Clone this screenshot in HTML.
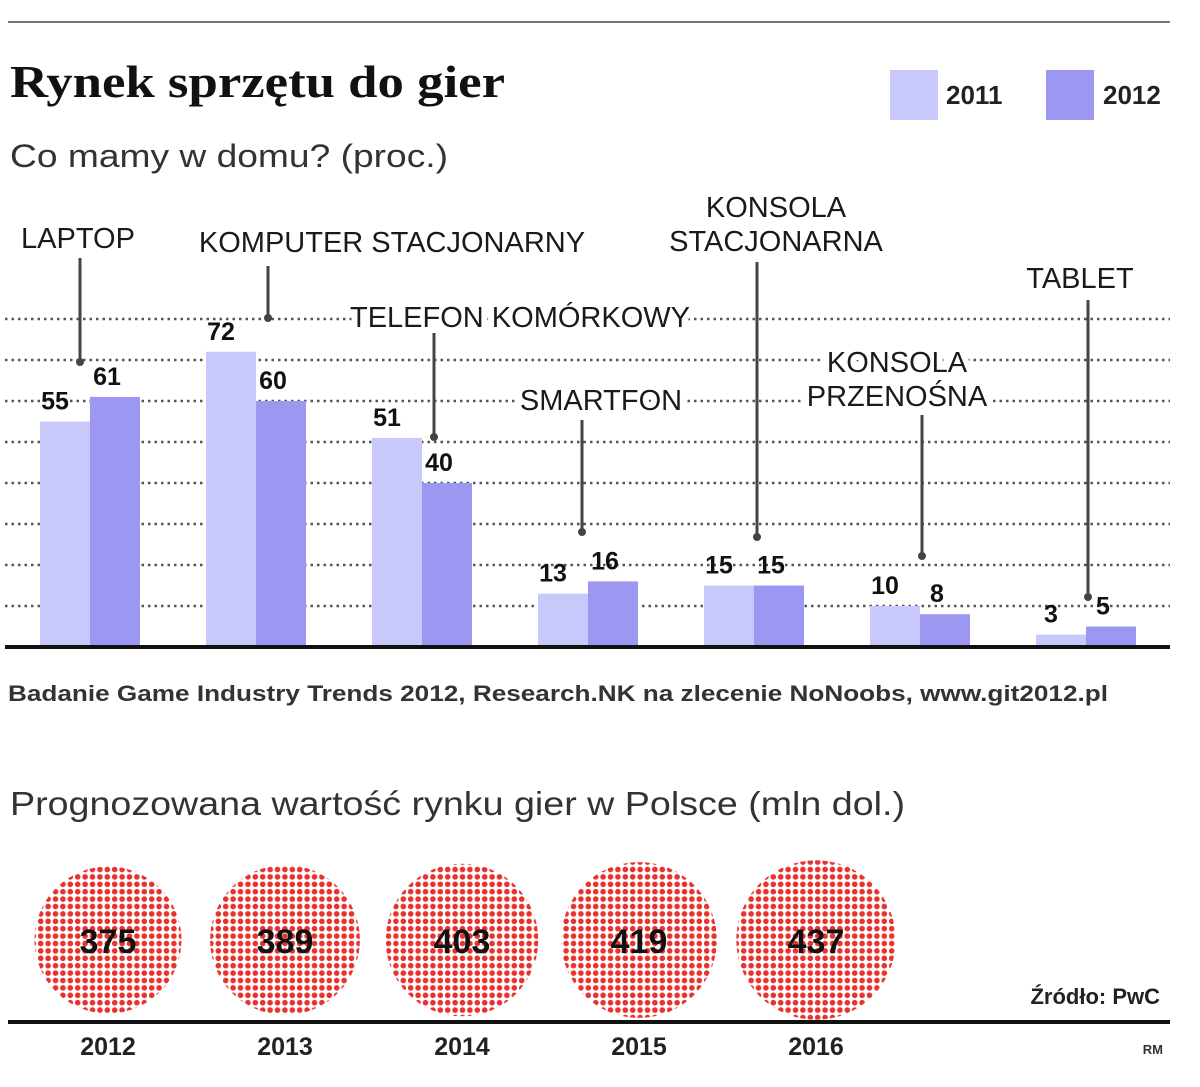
<!DOCTYPE html>
<html><head><meta charset="utf-8">
<style>
html,body{margin:0;padding:0;background:#fff;}
svg{display:block;}
text{font-family:"Liberation Sans",sans-serif;}
.lbl{font-size:29px;fill:#1a1a1a;paint-order:stroke;stroke:#fff;stroke-width:12px;stroke-linejoin:round;}
.val{font-size:25px;font-weight:bold;fill:#111;}
</style></head>
<body>
<svg id="chart" width="1200" height="1087" viewBox="0 0 1200 1087" xmlns="http://www.w3.org/2000/svg">
<defs>
<pattern id="dots" width="7.4" height="7.4" patternUnits="userSpaceOnUse">
<circle cx="3.7" cy="3.7" r="2.8" fill="#e8322e"/>
</pattern>
</defs>
<line x1="8" y1="22" x2="1170" y2="22" stroke="#777" stroke-width="2"/>
<text x="10" y="97" textLength="495" lengthAdjust="spacingAndGlyphs" style="font-family:'Liberation Serif',serif;font-size:46px;font-weight:bold;fill:#111;">Rynek sprzętu do gier</text>
<text x="10" y="167" textLength="438" lengthAdjust="spacingAndGlyphs" style="font-size:32px;fill:#333;">Co mamy w domu? (proc.)</text>
<rect x="890" y="70" width="48" height="50" fill="#c8c8fa"/>
<text x="946" y="104" style="font-size:26px;font-weight:bold;fill:#222;">2011</text>
<rect x="1046" y="70" width="48" height="50" fill="#9c98f2"/>
<text x="1103" y="104" style="font-size:26px;font-weight:bold;fill:#222;">2012</text>
<g id="grid"></g>
<g id="bars"></g>
<g id="labels"></g>
<line x1="5" y1="647" x2="1170" y2="647" stroke="#111" stroke-width="4"/>
<text x="8" y="701" textLength="1100" lengthAdjust="spacingAndGlyphs" style="font-size:22px;font-weight:bold;fill:#333;">Badanie Game Industry Trends 2012, Research.NK na zlecenie NoNoobs, www.git2012.pl</text>
<text x="10" y="815" textLength="895" lengthAdjust="spacingAndGlyphs" style="font-size:33px;fill:#333;">Prognozowana wartość rynku gier w Polsce (mln dol.)</text>
<g id="circles"></g>
<line x1="8" y1="1022" x2="1170" y2="1022" stroke="#111" stroke-width="4"/>
<text x="1160" y="1004" text-anchor="end" style="font-size:22px;font-weight:bold;fill:#222;">Źródło: PwC</text>
<text x="1163" y="1054" text-anchor="end" style="font-size:13px;font-weight:bold;fill:#333;">RM</text>
</svg>
<script>
const categories = ["LAPTOP","KOMPUTER STACJONARNY","TELEFON KOMÓRKOWY","SMARTFON","KONSOLA STACJONARNA","KONSOLA PRZENOŚNA","TABLET"];
const values2011 = [55,72,51,13,15,10,3];
const values2012 = [61,60,40,16,15,8,5];
const gridTicks = [10,20,30,40,50,60,70,80];
const forecastYears = ["2012","2013","2014","2015","2016"];
const forecastValues = [375,389,403,419,437];

const NS="http://www.w3.org/2000/svg";
function mk(tag,attrs,parent){const e=document.createElementNS(NS,tag);for(const k in attrs)e.setAttribute(k,attrs[k]);parent.appendChild(e);return e;}
const base=647, unit=4.1;
const y=v=>base-v*unit;
const groupX=i=>40+i*166;
const barW=50;

const grid=document.getElementById('grid');
gridTicks.forEach(t=>{
  const l=mk('line',{x1:5,x2:1170,y1:y(t),y2:y(t),stroke:'#555','stroke-width':2.5,'stroke-dasharray':'2.5 4'},grid);
  
  
});

const bars=document.getElementById('bars');
categories.forEach((c,i)=>{
  const x0=groupX(i);
  const b1=mk('rect',{x:x0,y:y(values2011[i]),width:barW,height:values2011[i]*unit,fill:'#c8c8fa'},bars);
  
  
  const b2=mk('rect',{x:x0+barW,y:y(values2012[i]),width:barW,height:values2012[i]*unit,fill:'#9c98f2'},bars);
  
  
  const t1=mk('text',{x:x0+barW/2-10,y:y(values2011[i])-12,'text-anchor':'middle',class:'val'},bars);
  t1.textContent=values2011[i];
  
  
  const t2=mk('text',{x:x0+barW*1.5-8,y:y(values2012[i])-12,'text-anchor':'middle',class:'val'},bars);
  t2.textContent=values2012[i];
  
  
});

const labelPos=[
  {lines:["LAPTOP"],x:78,y:248,lx:80,ly1:258,ly2:362},
  {lines:["KOMPUTER STACJONARNY"],x:392,y:252,lx:268,ly1:266,ly2:318},
  {lines:["TELEFON KOMÓRKOWY"],x:520,y:327,lx:434,ly1:333,ly2:437},
  {lines:["SMARTFON"],x:601,y:410,lx:582,ly1:420,ly2:532},
  {lines:["KONSOLA","STACJONARNA"],x:776,y:217,lx:757,ly1:262,ly2:537},
  {lines:["KONSOLA","PRZENOŚNA"],x:897,y:372,lx:922,ly1:415,ly2:556},
  {lines:["TABLET"],x:1080,y:288,lx:1088,ly1:300,ly2:597}
];
const labels=document.getElementById('labels');
labelPos.forEach((p,i)=>{
  const l=mk('line',{x1:p.lx,x2:p.lx,y1:p.ly1,y2:p.ly2,stroke:'#444','stroke-width':3},labels);
  
  
  const d=mk('circle',{cx:p.lx,cy:p.ly2,r:4,fill:'#444'},labels);
  
  
  p.lines.forEach((s,j)=>{
    const t=mk('text',{x:p.x,y:p.y+j*34,'text-anchor':'middle',class:'lbl'},labels);
    t.textContent=s;
    
    
  });
});

const circles=document.getElementById('circles');
const cxs=i=>108+i*177;
forecastValues.forEach((v,i)=>{
  const r=36+v*0.1;
  const c=mk('circle',{cx:cxs(i),cy:940,r:r,fill:'url(#dots)'},circles);
  
  
  const t=mk('text',{x:cxs(i),y:953,'text-anchor':'middle',style:'font-size:34px;font-weight:bold;fill:#111;'},circles);
  t.textContent=v;
  
  
  const yl=mk('text',{x:cxs(i),y:1055,'text-anchor':'middle',style:'font-size:25px;font-weight:bold;fill:#222;'},circles);
  yl.textContent=forecastYears[i];
  
  
});
</script>
</body></html>
